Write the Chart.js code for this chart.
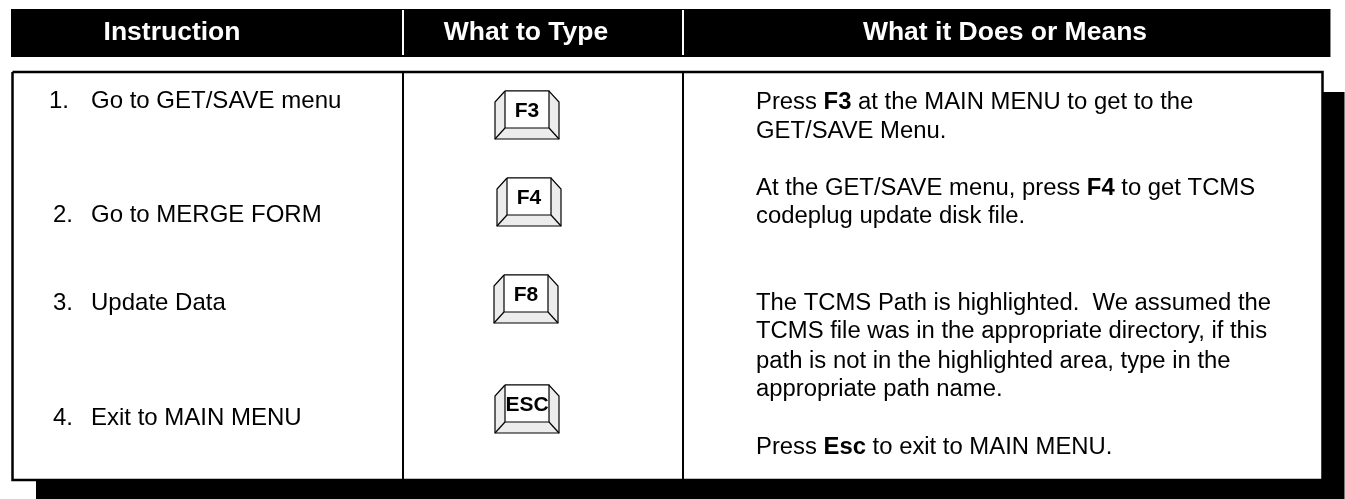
<!DOCTYPE html>
<html>
<head>
<meta charset="utf-8">
<style>
  html, body { margin: 0; padding: 0; background: #fff; }
  canvas { display: block; }
</style>
<script src="https://cdn.jsdelivr.net/npm/chart.js@4"></script>
</head>
<body>
<canvas id="myChart" width="1345" height="499"></canvas>
<script>
const headers = ["Instruction", "What to Type", "What it Does or Means"];
const headerX = [172, 526, 1005];
const headerY = 33;

const stepNums = ["1.", "2.", "3.", "4."];
const stepNames = ["Go to GET/SAVE menu", "Go to MERGE FORM", "Update Data", "Exit to MAIN MENU"];
const stepNumX = [49, 53, 53, 53];
const stepY = [101, 215, 303, 418];
const stepNameX = 91;

const keyLabels = ["F3", "F4", "F8", "ESC"];
const keyX = [495, 497, 494, 495];
const keyY = [91, 178, 275, 385];

// *...* is bold
const descLines = [
  "Press *F3* at the MAIN MENU to get to the",
  "GET/SAVE Menu.",
  "At the GET/SAVE menu, press *F4* to get TCMS",
  "codeplug update disk file.",
  "The TCMS Path is highlighted.  We assumed the",
  "TCMS file was in the appropriate directory, if this",
  "path is not in the highlighted area, type in the",
  "appropriate path name.",
  "Press *Esc* to exit to MAIN MENU."
];
const descY = [102, 131, 188, 216, 303, 331, 361, 389, 447];
const descX = 756;

function box(x0, y0, x1, y1) {
  return [{x: x0, y: y0}, {x: x1, y: y0}, {x: x1, y: y1}, {x: x0, y: y1}, {x: x0, y: y0}];
}

const datasets = [];
function addShape(points, fillColor, lineColor, lineWidth) {
  datasets.push({
    data: points,
    showLine: true,
    fill: fillColor ? "shape" : false,
    backgroundColor: fillColor || "transparent",
    borderColor: lineColor || "transparent",
    borderWidth: lineWidth || 0,
    tension: 0,
    pointRadius: 0
  });
}

// shadow behind the table
addShape(box(1323, 92, 1344, 499), "#000");
addShape(box(36, 480, 1344, 499), "#000");
addShape(box(1344, 92, 1345, 499), "#777");
// header band
addShape(box(11, 9, 1330, 57), "#000");
addShape(box(1330, 9, 1331, 57), "#888");
addShape([{x: 403, y: 10}, {x: 403, y: 55}], null, "#fff", 2);
addShape([{x: 683, y: 10}, {x: 683, y: 55}], null, "#fff", 2);
// table
addShape(box(12.5, 72, 1322.5, 480), "#fff", "#000", 2.5);
addShape([{x: 403, y: 72}, {x: 403, y: 480}], null, "#000", 2);
addShape([{x: 683, y: 72}, {x: 683, y: 480}], null, "#000", 2);

// keyboard keys
keyX.forEach((kx, i) => {
  const ky = keyY[i];
  const p = (dx, dy) => ({x: kx + dx, y: ky + dy});
  addShape([p(10, 0), p(54, 0), p(64, 11), p(64, 48), p(0, 48), p(0, 11), p(10, 0)], "#ececec", "#000", 1.2);
  addShape(box(kx + 10, ky, kx + 54, ky + 37), "#fff", "#000", 1.2);
  addShape([p(10, 37), p(0, 48)], null, "#000", 1.2);
  addShape([p(54, 37), p(64, 48)], null, "#000", 1.2);
});
datasets.forEach((d, i) => { d.order = datasets.length - i; });

const tableText = {
  id: "tableText",
  afterDatasetsDraw(chart) {
    const ctx = chart.ctx;
    const xs = chart.scales.x;
    const ys = chart.scales.y;
    const regular = "24px 'Liberation Sans'";
    const descRegular = "23.85px 'Liberation Sans'";
    const descBold = "bold 23.85px 'Liberation Sans'";
    ctx.save();
    ctx.textBaseline = "middle";

    ctx.fillStyle = "#fff";
    ctx.font = "bold 26.5px 'Liberation Sans'";
    ctx.textAlign = "center";
    headers.forEach((h, i) => ctx.fillText(h, xs.getPixelForValue(headerX[i]), ys.getPixelForValue(headerY)));

    ctx.fillStyle = "#000";
    ctx.textAlign = "left";
    ctx.font = regular;
    stepNames.forEach((s, i) => {
      ctx.fillText(stepNums[i], xs.getPixelForValue(stepNumX[i]), ys.getPixelForValue(stepY[i]));
      ctx.fillText(s, xs.getPixelForValue(stepNameX), ys.getPixelForValue(stepY[i]));
    });

    ctx.textAlign = "center";
    ctx.font = "bold 21px 'Liberation Sans'";
    keyLabels.forEach((k, i) => {
      ctx.fillText(k, xs.getPixelForValue(keyX[i] + 32), ys.getPixelForValue(keyY[i] + 20));
    });

    ctx.textAlign = "left";
    descLines.forEach((line, i) => {
      let x = xs.getPixelForValue(descX);
      line.split("*").forEach((part, j) => {
        ctx.font = j % 2 ? descBold : descRegular;
        ctx.fillText(part, x, ys.getPixelForValue(descY[i]));
        x += ctx.measureText(part).width;
      });
    });
    ctx.restore();
  }
};

new Chart(document.getElementById("myChart"), {
  type: "scatter",
  data: { datasets: datasets },
  options: {
    responsive: false,
    animation: false,
    layout: { padding: 0 },
    plugins: { legend: { display: false }, tooltip: { enabled: false } },
    scales: {
      x: { type: "linear", min: 0, max: 1345, display: false },
      y: { type: "linear", min: 0, max: 499, reverse: true, display: false }
    }
  },
  plugins: [tableText]
});
</script>
</body>
</html>
